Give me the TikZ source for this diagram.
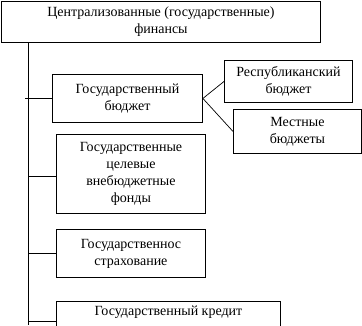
\documentclass[tikz,border=0pt]{standalone}
\usepackage{fontspec}
\setmainfont{Liberation Serif}
\begin{document}
\begin{tikzpicture}[x=1pt,y=-1pt,
  box/.style={draw, line width=0.9pt, align=center, inner sep=0pt, anchor=north west,
    font=\fontsize{14}{17}\selectfont},
  conn/.style={line width=0.7pt}]
\useasboundingbox (0,0) rectangle (362,325);
\node[box, minimum width=319, minimum height=41] (top) at (1,1)
  {Централизованные (государственные)\\финансы};
\node[box, minimum width=150, minimum height=48] (budget) at (52,74)
  {Государственный\\бюджет};
\node[box, minimum width=128, minimum height=42] (resp) at (224,60)
  {Республиканский\\бюджет};
\node[box, minimum width=128, minimum height=44] (mest) at (233,109)
  {Местные\\бюджеты};
\node[box, minimum width=149, minimum height=79] (fund) at (56,134)
  {Государственные\\целевые\\внебюджетные\\фонды};
\node[box, minimum width=149, minimum height=48] (strakh) at (56,229)
  {Государственнос\\страхование};
\node[box, minimum width=224, text height=14pt, text depth=16pt] (kredit) at (56,301)
  {Государственный кредит};
\coordinate (trunktop) at (28,42);
\coordinate (trunkbot) at (28,325);
\coordinate (t1) at (25,98);
\coordinate (t2) at (28,176);
\coordinate (t3) at (28,253);
\coordinate (t4) at (28,321);
\draw[conn] (trunktop) -- (trunkbot);
\draw[conn] (t1) -- (budget.west |- t1);
\draw[conn] (t2) -- (fund.west |- t2);
\draw[conn] (t3) -- (strakh.west |- t3);
\draw[conn] (t4) -- (kredit.west |- t4);
\draw[conn] (budget.east) -- (resp.west);
\draw[conn] (budget.east) -- (mest.west);
\end{tikzpicture}
\end{document}
